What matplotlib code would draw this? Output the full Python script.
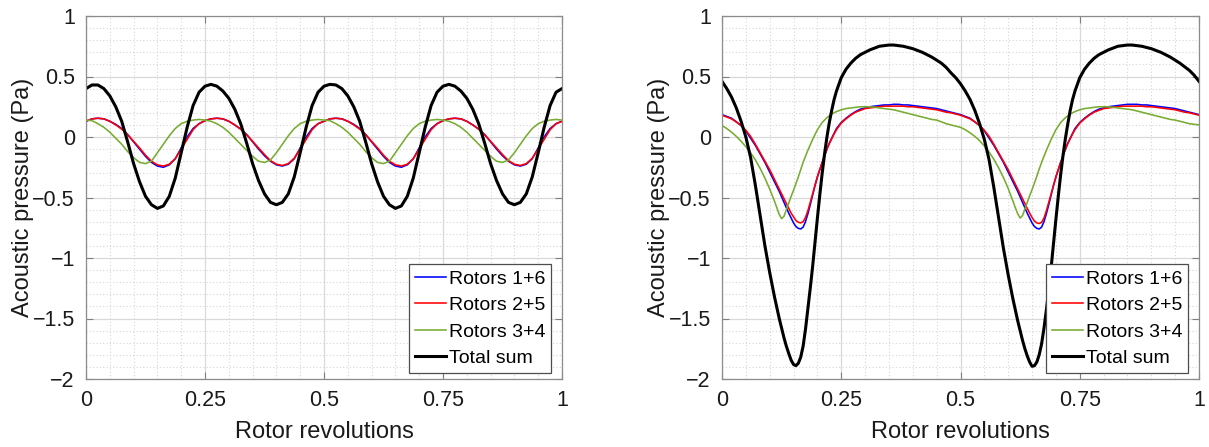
import numpy as np
import matplotlib
matplotlib.use("Agg")
import matplotlib.pyplot as plt
from matplotlib.ticker import MultipleLocator

plt.rcParams['font.family'] = ['Liberation Sans', 'DejaVu Sans']

# ---------------- Left panel data (x step 0.0125) ----------------
x_left = np.round(np.arange(0, 81) * 0.0125, 4)

blue_left = [
    0.13, 0.15, 0.155, 0.15, 0.13, 0.105, 0.07, 0.02, -0.04, -0.10,
    -0.16, -0.21, -0.24, -0.25, -0.23, -0.18, -0.09, 0.00, 0.07, 0.11,
    0.135, 0.15, 0.155, 0.15, 0.13, 0.10, 0.065, 0.02, -0.04, -0.10,
    -0.155, -0.20, -0.23, -0.24, -0.225, -0.18, -0.09, 0.00, 0.07, 0.11,
    0.13, 0.15, 0.155, 0.15, 0.13, 0.105, 0.07, 0.02, -0.04, -0.10,
    -0.16, -0.21, -0.24, -0.25, -0.23, -0.18, -0.09, 0.00, 0.07, 0.11,
    0.135, 0.15, 0.155, 0.15, 0.13, 0.10, 0.065, 0.02, -0.04, -0.10,
    -0.155, -0.20, -0.23, -0.24, -0.225, -0.18, -0.09, 0.00, 0.07, 0.11,
    0.13]

red_left = [
    0.13, 0.15, 0.155, 0.15, 0.13, 0.10, 0.065, 0.02, -0.035, -0.09,
    -0.15, -0.20, -0.23, -0.24, -0.225, -0.18, -0.10, -0.02, 0.06, 0.11,
    0.135, 0.15, 0.155, 0.15, 0.13, 0.10, 0.065, 0.02, -0.035, -0.09,
    -0.145, -0.195, -0.225, -0.235, -0.22, -0.175, -0.10, -0.02, 0.06, 0.11,
    0.13, 0.15, 0.155, 0.15, 0.13, 0.10, 0.065, 0.02, -0.035, -0.09,
    -0.15, -0.20, -0.23, -0.24, -0.225, -0.18, -0.10, -0.02, 0.06, 0.11,
    0.135, 0.15, 0.155, 0.15, 0.13, 0.10, 0.065, 0.02, -0.035, -0.09,
    -0.145, -0.195, -0.225, -0.235, -0.22, -0.175, -0.10, -0.02, 0.06, 0.11,
    0.13]

green_left = [
    0.14, 0.135, 0.11, 0.08, 0.04, -0.01, -0.06, -0.12, -0.17, -0.21,
    -0.22, -0.20, -0.13, -0.06, 0.01, 0.07, 0.11, 0.13, 0.14, 0.145,
    0.14, 0.13, 0.11, 0.08, 0.04, -0.01, -0.06, -0.11, -0.16, -0.20,
    -0.21, -0.19, -0.13, -0.06, 0.01, 0.07, 0.11, 0.13, 0.14, 0.145,
    0.14, 0.135, 0.11, 0.08, 0.04, -0.01, -0.06, -0.12, -0.17, -0.21,
    -0.22, -0.20, -0.13, -0.06, 0.01, 0.07, 0.11, 0.13, 0.14, 0.145,
    0.14, 0.13, 0.11, 0.08, 0.04, -0.01, -0.06, -0.11, -0.16, -0.20,
    -0.21, -0.19, -0.13, -0.06, 0.01, 0.07, 0.11, 0.13, 0.14, 0.145,
    0.14]

black_left = [
    0.40, 0.43, 0.43, 0.40, 0.34, 0.25, 0.13, -0.04, -0.22, -0.37,
    -0.49, -0.56, -0.59, -0.57, -0.49, -0.34, -0.13, 0.08, 0.26, 0.37,
    0.42, 0.435, 0.42, 0.38, 0.32, 0.23, 0.11, -0.05, -0.22, -0.36,
    -0.47, -0.54, -0.56, -0.54, -0.47, -0.33, -0.13, 0.08, 0.26, 0.37,
    0.42, 0.435, 0.43, 0.40, 0.34, 0.25, 0.13, -0.04, -0.22, -0.37,
    -0.49, -0.56, -0.59, -0.57, -0.49, -0.34, -0.13, 0.08, 0.26, 0.37,
    0.42, 0.435, 0.42, 0.38, 0.32, 0.23, 0.11, -0.05, -0.22, -0.36,
    -0.47, -0.54, -0.56, -0.54, -0.47, -0.33, -0.13, 0.08, 0.26, 0.37,
    0.40]

# ---------------- Right panel data (finer sampling around the dips) ----------------
x_right = np.round(np.concatenate([
    np.arange(0, 11) * 0.01,            # 0.00 .. 0.10
    0.10 + np.arange(1, 29) * 0.005,    # 0.105 .. 0.24
    0.24 + np.arange(1, 37) * 0.01,     # 0.25 .. 0.60
    0.60 + np.arange(1, 29) * 0.005,    # 0.605 .. 0.74
    0.74 + np.arange(1, 27) * 0.01,     # 0.75 .. 1.00
]), 4)

blue_right = [
    0.185, 0.17, 0.155, 0.125, 0.095, 0.05, -0.01, -0.07, -0.14, -0.21, -0.29,
    -0.33, -0.37, -0.41, -0.45, -0.495, -0.54, -0.585, -0.63, -0.67, -0.71,
    -0.74, -0.755, -0.76, -0.745, -0.70, -0.635, -0.56, -0.48, -0.40, -0.33,
    -0.27, -0.21, -0.155, -0.10, -0.05, -0.01, 0.03, 0.07,
    0.12, 0.155, 0.185, 0.21, 0.23, 0.24, 0.25, 0.255, 0.26, 0.265,
    0.265, 0.27, 0.27, 0.265, 0.265, 0.26, 0.255, 0.25, 0.245, 0.24,
    0.235, 0.225, 0.215, 0.205, 0.195, 0.185, 0.17, 0.155, 0.125, 0.095,
    0.05, -0.01, -0.07, -0.14, -0.21, -0.29,
    -0.33, -0.37, -0.41, -0.45, -0.495, -0.54, -0.585, -0.63, -0.67, -0.71,
    -0.74, -0.755, -0.76, -0.745, -0.70, -0.635, -0.56, -0.48, -0.40, -0.33,
    -0.27, -0.21, -0.155, -0.10, -0.05, -0.01, 0.03, 0.07,
    0.12, 0.155, 0.185, 0.21, 0.23, 0.24, 0.25, 0.255, 0.26, 0.265,
    0.27, 0.27, 0.27, 0.265, 0.265, 0.26, 0.255, 0.25, 0.245, 0.24,
    0.235, 0.225, 0.215, 0.205, 0.195, 0.185]

red_right = [
    0.18, 0.165, 0.15, 0.125, 0.095, 0.055, 0.005, -0.06, -0.13, -0.20, -0.27,
    -0.31, -0.35, -0.39, -0.43, -0.47, -0.51, -0.55, -0.59, -0.63, -0.66,
    -0.69, -0.705, -0.71, -0.70, -0.665, -0.61, -0.54, -0.47, -0.40, -0.33,
    -0.27, -0.21, -0.155, -0.10, -0.055, -0.015, 0.025, 0.06,
    0.115, 0.15, 0.18, 0.205, 0.22, 0.235, 0.24, 0.245, 0.25, 0.255,
    0.255, 0.255, 0.255, 0.255, 0.25, 0.25, 0.245, 0.24, 0.235, 0.23,
    0.225, 0.215, 0.205, 0.20, 0.19, 0.18, 0.165, 0.15, 0.125, 0.095,
    0.055, 0.005, -0.06, -0.13, -0.20, -0.27,
    -0.31, -0.35, -0.39, -0.43, -0.47, -0.51, -0.55, -0.59, -0.63, -0.665,
    -0.695, -0.71, -0.715, -0.705, -0.67, -0.61, -0.54, -0.47, -0.40, -0.33,
    -0.27, -0.21, -0.155, -0.10, -0.055, -0.015, 0.025, 0.06,
    0.115, 0.15, 0.18, 0.205, 0.22, 0.235, 0.24, 0.245, 0.25, 0.255,
    0.255, 0.255, 0.255, 0.255, 0.25, 0.25, 0.245, 0.24, 0.235, 0.23,
    0.225, 0.215, 0.205, 0.20, 0.19, 0.18]

green_right = [
    0.095, 0.07, 0.04, 0.005, -0.035, -0.08, -0.13, -0.19, -0.26, -0.34, -0.43,
    -0.48, -0.53, -0.585, -0.64, -0.675, -0.655, -0.60, -0.545, -0.49, -0.44,
    -0.385, -0.33, -0.27, -0.21, -0.16, -0.11, -0.065, -0.02, 0.02, 0.06,
    0.09, 0.12, 0.14, 0.16, 0.175, 0.19, 0.20, 0.21,
    0.225, 0.235, 0.24, 0.245, 0.25, 0.25, 0.25, 0.245, 0.24, 0.235,
    0.23, 0.225, 0.215, 0.205, 0.195, 0.185, 0.175, 0.165, 0.155, 0.145,
    0.14, 0.125, 0.11, 0.10, 0.09, 0.08, 0.06, 0.035, 0.005, -0.03,
    -0.075, -0.125, -0.185, -0.255, -0.335, -0.425,
    -0.48, -0.53, -0.585, -0.635, -0.67, -0.65, -0.595, -0.54, -0.485, -0.435,
    -0.38, -0.325, -0.265, -0.21, -0.16, -0.11, -0.065, -0.02, 0.02, 0.06,
    0.09, 0.12, 0.14, 0.16, 0.175, 0.19, 0.20, 0.21,
    0.225, 0.235, 0.24, 0.245, 0.25, 0.25, 0.25, 0.245, 0.24, 0.235,
    0.23, 0.225, 0.215, 0.205, 0.195, 0.185, 0.175, 0.165, 0.155, 0.145,
    0.14, 0.13, 0.12, 0.11, 0.105, 0.10]

black_right = [
    0.46, 0.40, 0.33, 0.24, 0.13, 0.00, -0.17, -0.40, -0.65, -0.90, -1.12,
    -1.22, -1.32, -1.41, -1.50, -1.58, -1.66, -1.73, -1.79, -1.845, -1.88,
    -1.89, -1.87, -1.82, -1.73, -1.59, -1.42, -1.25, -1.07, -0.87, -0.67,
    -0.48, -0.30, -0.14, 0.00, 0.12, 0.22, 0.31, 0.38,
    0.49, 0.56, 0.61, 0.65, 0.68, 0.70, 0.72, 0.735, 0.75, 0.755,
    0.76, 0.76, 0.755, 0.75, 0.74, 0.73, 0.715, 0.70, 0.68, 0.66,
    0.635, 0.61, 0.575, 0.53, 0.49, 0.44, 0.38, 0.31, 0.22, 0.11,
    -0.02, -0.19, -0.42, -0.67, -0.92, -1.14,
    -1.24, -1.34, -1.43, -1.52, -1.60, -1.68, -1.75, -1.81, -1.86, -1.895,
    -1.89, -1.86, -1.80, -1.71, -1.58, -1.43, -1.26, -1.08, -0.88, -0.68,
    -0.49, -0.31, -0.15, -0.01, 0.11, 0.22, 0.31, 0.38,
    0.49, 0.56, 0.61, 0.65, 0.68, 0.70, 0.72, 0.735, 0.75, 0.755,
    0.76, 0.76, 0.755, 0.75, 0.74, 0.73, 0.715, 0.70, 0.68, 0.66,
    0.635, 0.61, 0.58, 0.55, 0.51, 0.46]

labels = ["Rotors 1+6", "Rotors 2+5", "Rotors 3+4", "Total sum"]
colors = ["#0000ff", "#ff0000", "#77ac30", "#000000"]
widths = [1.15, 1.15, 1.15, 2.2]

x_ticks = [0, 0.25, 0.5, 0.75, 1]
x_ticklabels = ["0", "0.25", "0.5", "0.75", "1"]
y_ticks = [-2, -1.5, -1, -0.5, 0, 0.5, 1]
y_ticklabels = ["\u22122", "\u22121.5", "\u22121", "\u22120.5", "0", "0.5", "1"]

W, H = 1209, 447
fig = plt.figure(figsize=(W / 100, H / 100), dpi=100)

panels = [
    (x_left, [blue_left, red_left, green_left, black_left], 86, 562),
    (x_right, [blue_right, red_right, green_right, black_right], 722, 1199),
]

for xs, series, x0, x1 in panels:
    top, bot = 16, 379
    ax = fig.add_axes([x0 / W, 1 - bot / H, (x1 - x0) / W, (bot - top) / H])
    for ys, lab, c, lw in zip(series, labels, colors, widths):
        ax.plot(xs, ys, color=c, lw=lw, label=lab, solid_joinstyle='round')
    ax.set_xlim(0, 1)
    ax.set_ylim(-2, 1)
    ax.set_xticks(x_ticks)
    ax.set_xticklabels(x_ticklabels)
    ax.set_yticks(y_ticks)
    ax.set_yticklabels(y_ticklabels)
    ax.xaxis.set_minor_locator(MultipleLocator(0.05))
    ax.yaxis.set_minor_locator(MultipleLocator(0.1))
    ax.grid(which='major', color='#d9d9d9', lw=0.9, ls='-')
    ax.grid(which='minor', color='#d6d6d6', lw=0.8, ls=(0, (1, 2)))
    ax.set_axisbelow(True)
    ax.tick_params(which='major', direction='in', length=5, width=0.8,
                   top=True, right=True, labelsize=15.5, colors='#7f7f7f',
                   labelcolor='#1a1a1a', pad=8)
    ax.tick_params(which='minor', length=0, top=True, right=True)
    for sp in ax.spines.values():
        sp.set_color('#8c8c8c')
        sp.set_linewidth(0.9)
    ax.set_xlabel("Rotor revolutions", fontsize=17, color='#1a1a1a', labelpad=7)
    ax.set_ylabel("Acoustic pressure (Pa)", fontsize=17, color='#1a1a1a', labelpad=-1)
    leg = ax.legend(loc='lower right', bbox_to_anchor=(0.977, 0.017),
                    borderaxespad=0, fontsize=14, frameon=True, fancybox=False,
                    edgecolor='#4d4d4d', framealpha=1, handlelength=1.6,
                    handletextpad=0.15, labelspacing=0.45, borderpad=0.3)
    leg.get_frame().set_linewidth(0.9)

fig.savefig("out.png", dpi=100)
